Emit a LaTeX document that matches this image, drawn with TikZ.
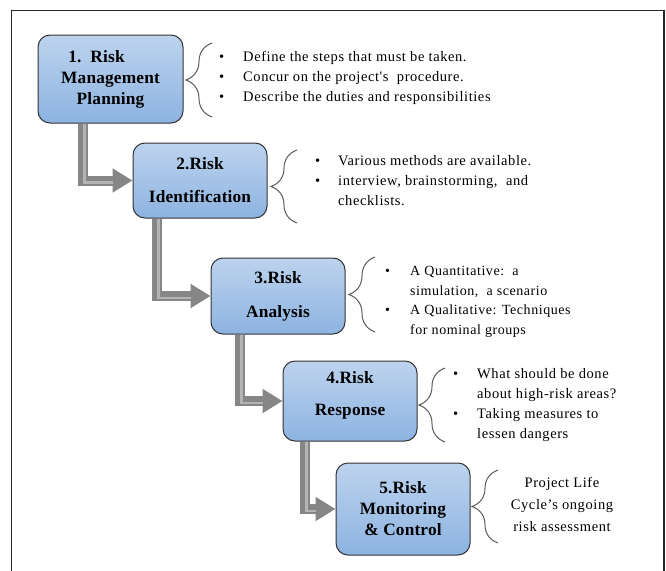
\documentclass[tikz,border=0pt]{standalone}
\usepackage{fontspec}
\setmainfont{Liberation Serif}
\newfontfamily\notefont[LetterSpace=4]{Liberation Serif}
\newfontfamily\boxfont[LetterSpace=1]{Liberation Serif}
\usetikzlibrary{arrows.meta,decorations.pathreplacing}
\definecolor{boxtop}{HTML}{BDD3EE}
\definecolor{boxbot}{HTML}{8DB3E1}
\definecolor{arrowgray}{HTML}{868686}
\definecolor{arrowlight}{HTML}{B4B4B4}
\definecolor{bracegray}{HTML}{5A5A5A}
\tikzset{
  stepbox/.style={draw=black!80, line width=1pt, rounded corners=12pt,
    top color=boxtop, bottom color=boxbot, align=center, inner sep=0pt,
    font=\boxfont\fontsize{17.3}{21}\selectfont\bfseries},
  flow/.style={line width=10pt, draw=arrowgray, -{Triangle[width=23pt,length=20pt]}},
  hl/.style={line width=2.5pt, draw=arrowlight, shorten >=20pt, shorten <=0.5pt},
  curly/.style={decorate, decoration={brace, amplitude=26pt}, draw=bracegray, line width=1pt},
  note/.style={font=\notefont\fontsize{14.5}{20}\selectfont, align=left, inner sep=0pt, anchor=west},
  frame/.style={draw=black!85, line width=1.4pt},
}
\newcommand{\bul}[1]{\makebox[#1][l]{\textbullet}}
\begin{document}
\begin{tikzpicture}[x=1pt,y=-1pt]
\useasboundingbox (0,0) rectangle (666,570);
\draw[frame] (11.5,580) -- (11.5,10.5) -- (664,10.5) -- (664,580);

% boxes
\node[stepbox, minimum width=145pt, minimum height=88pt] (b1) at (110.5,79)
  {1.~~Risk\hspace*{28pt}\\Management\\Planning};
\node[stepbox, minimum width=134pt, minimum height=75pt] (b2) at (200,180.5)
  {2.Risk\\[12pt]Identification};
\node[stepbox, minimum width=134pt, minimum height=76pt] (b3) at (278,296)
  {3.Risk\\[13pt]Analysis};
\node[stepbox, minimum width=134pt, minimum height=80pt] (b4) at (350,401)
  {4.Risk\\[11pt]Response\\[-6pt]\mbox{}};
\node[stepbox, minimum width=134pt, minimum height=92pt] (b5) at (403,509)
  {5.Risk\\Monitoring\\\&~Control};

% arrows
\draw[flow] ([xshift=45pt]b1.south west) |- (b2.west);
\draw[hl] ([xshift=47pt]b1.south west) |- ([yshift=-2pt]b2.west);
\draw[flow] ([xshift=24pt]b2.south west) |- (b3.west);
\draw[hl] ([xshift=26pt]b2.south west) |- ([yshift=-2pt]b3.west);
\draw[flow] ([xshift=29pt]b3.south west) |- (b4.west);
\draw[hl] ([xshift=31pt]b3.south west) |- ([yshift=-2pt]b4.west);
\draw[flow] ([xshift=22pt]b4.south west) |- (b5.west);
\draw[hl] ([xshift=24pt]b4.south west) |- ([yshift=-2pt]b5.west);

% braces
\draw[curly] (212,117) -- (212,43);
\draw[curly] (297,223) -- (297,150);
\draw[curly] (375,332) -- (375,257);
\draw[curly] (445,442) -- (445,368);
\draw[curly] (498,543) -- (498,470);

% notes
\node[note] (n1) at (219,78)
  {\bul{24pt}Define the steps that must be taken.\\
   \bul{24pt}Concur on the project's~ procedure.\\
   \bul{24pt}Describe the duties and responsibilities};
\node[note] (n2) at (315,181)
  {\bul{23pt}Various methods are available.\\
   \bul{23pt}interview, brainstorming,~ and\\
   \hspace*{23pt}checklists.};
\node[note, font=\notefont\fontsize{14}{19.7}\selectfont] (n3) at (385,302)
  {\bul{25pt}A Quantitative:~~a\\
   \hspace*{25pt}simulation,~ a scenario\\
   \bul{25pt}A Qualitative: Techniques\\
   \hspace*{25pt}for nominal groups};
\node[note] (n4) at (453,405)
  {\bul{24pt}What should be done\\
   \hspace*{24pt}about high-risk areas?\\
   \bul{24pt}Taking measures to\\
   \hspace*{24pt}lessen dangers};
\node[note, anchor=center, align=center, font=\notefont\fontsize{14.5}{22}\selectfont] (n5) at (562,504)
  {Project Life\\Cycle’s ongoing\\risk assessment};
\end{tikzpicture}
\end{document}
